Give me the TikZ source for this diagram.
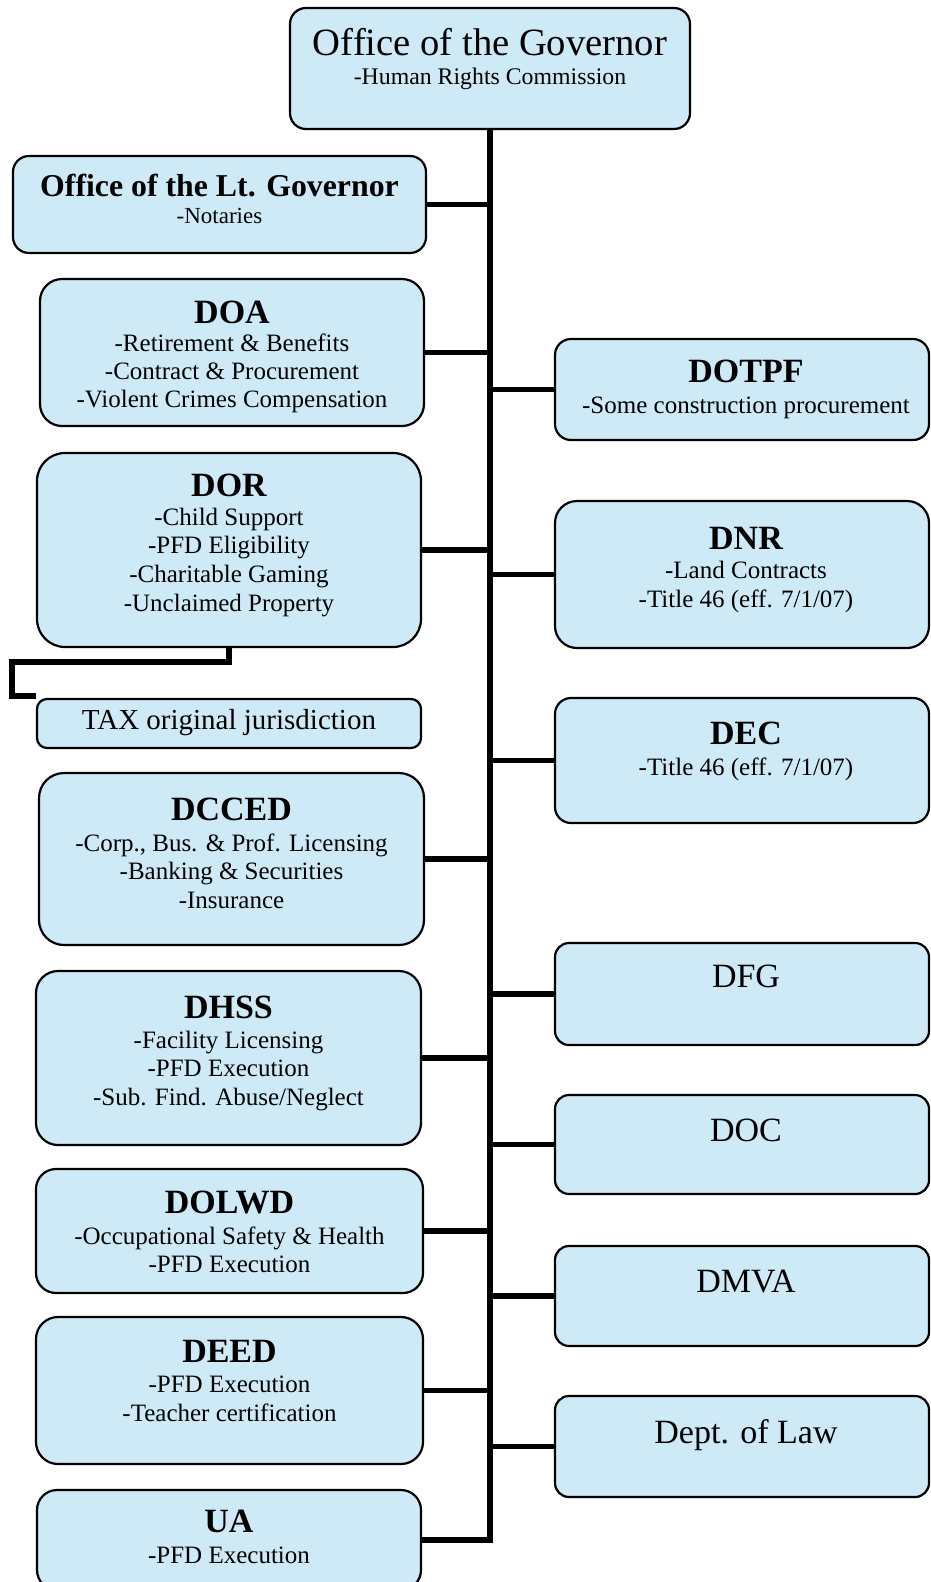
\documentclass[tikz,border=0pt]{standalone}
\usepackage{fontspec}
\setmainfont{Liberation Serif}
\definecolor{boxblue}{RGB}{205,234,246}
\tikzset{
  orgbox/.style={draw=black, line width=2.2pt, fill=boxblue, inner sep=0pt},
  conn/.style={draw=black, line width=5.2pt},
  ttl/.style={font=\fontsize{34}{40}\selectfont\bfseries, anchor=base, inner sep=0pt},
  plainttl/.style={font=\fontsize{34}{40}\selectfont, anchor=base, inner sep=0pt},
  sub/.style={font=\fontsize{25}{28.5}\selectfont, anchor=base, inner sep=0pt},
}
% name, x1, y1, x2, y2, corner radius
\newcommand\obox[6]{%
  \node[orgbox, rounded corners=#6pt, minimum width={#4-#2}, minimum height={#5-#3}]
    (#1) at ({(#2+#4)/2},{(#3+#5)/2}) {};}
% name, x, first baseline, step, list of lines
\newcommand\sublines[5]{%
  \foreach \itm [count=\i from 0] in {#5}{%
    \node[sub] (#1-s\i) at (#2,{#3+#4*\i}) {\itm};}}
\begin{document}
\begin{tikzpicture}[x=1pt,y=-1pt]
\useasboundingbox (0,0) rectangle (930,1582);

% ---------- boxes ----------
\obox{gov}{290}{8}{690}{129}{16}
\obox{ltgov}{13}{156}{426}{253}{16}
\obox{doa}{40}{279}{424}{426}{22}
\obox{dor}{37}{453}{421}{647}{28}
\obox{tax}{37}{699}{421}{748}{10}
\obox{dcced}{39}{773}{424}{945}{25}
\obox{dhss}{36}{971}{421}{1145}{22}
\obox{dolwd}{36}{1169}{423}{1293}{20}
\obox{deed}{36}{1317}{423}{1464}{22}
\obox{ua}{37}{1490}{421}{1590}{20}

\obox{dotpf}{555}{339}{929}{440}{16}
\obox{dnr}{555}{501}{929}{648}{22}
\obox{dec}{555}{698}{929}{823}{16}
\obox{dfg}{555}{943}{929}{1045}{14}
\obox{doc}{555}{1095}{929}{1194}{14}
\obox{dmva}{555}{1246}{929}{1346}{14}
\obox{law}{555}{1396}{929}{1497}{14}

% ---------- connectors ----------
\draw[conn] (gov.south) |- (ua.east);
\foreach \b in {ltgov,doa,dor,dcced,dhss,dolwd,deed}{
  \draw[conn] (\b.east) -- (\b.east -| gov.south);}
\foreach \b in {dotpf,dnr,dec,dfg,doc,dmva,law}{
  \draw[conn] (\b.west) -- (\b.west -| gov.south);}
\coordinate (taxbend) at (12,662);
\draw[conn] (dor.south) |- (taxbend) |- ([yshift=2pt]tax.north west);

% ---------- texts ----------
\node[font=\fontsize{38.6}{44}\selectfont, anchor=base, inner sep=0pt] (gov-t) at (490,55) {Office of the Governor};
\node[sub, font=\fontsize{23.8}{28}\selectfont] (gov-s) at (490,84) {-Human Rights Commission};

\node[ttl, font=\fontsize{31.8}{38}\selectfont\bfseries] (ltgov-t) at (219.5,196) {Office of the Lt. Governor};
\node[sub, font=\fontsize{23}{28}\selectfont] (ltgov-s) at (219.5,223) {-Notaries};

\node[ttl] (doa-t) at (232,323) {DOA};
\sublines{doa}{232}{351}{28.3}{{-Retirement \& Benefits},{-Contract \& Procurement},{-Violent Crimes Compensation}}

\node[ttl] (dor-t) at (229,496) {DOR};
\sublines{dor}{229}{525}{28.7}{{-Child Support},{-PFD Eligibility},{-Charitable Gaming},{-Unclaimed Property}}

\node[font=\fontsize{29}{34}\selectfont, anchor=base, inner sep=0pt] (tax-t) at (229,729) {TAX original jurisdiction};

\node[ttl] (dcced-t) at (231.5,820) {DCCED};
\sublines{dcced}{231.5}{851}{28.5}{{-Corp., Bus. \& Prof. Licensing},{-Banking \& Securities},{-Insurance}}

\node[ttl] (dhss-t) at (228.5,1018) {DHSS};
\sublines{dhss}{228.5}{1048}{28.5}{{-Facility Licensing},{-PFD Execution},{-Sub. Find. Abuse/Neglect}}

\node[ttl] (dolwd-t) at (229.5,1213) {DOLWD};
\sublines{dolwd}{229.5}{1244}{28.5}{{-Occupational Safety \& Health},{-PFD Execution}}

\node[ttl] (deed-t) at (229.5,1362) {DEED};
\sublines{deed}{229.5}{1392}{29.5}{{-PFD Execution},{-Teacher certification}}

\node[ttl] (ua-t) at (229,1532) {UA};
\sublines{ua}{229}{1563}{28.5}{{-PFD Execution}}

\node[ttl] (dotpf-t) at (746,382) {DOTPF};
\sublines{dotpf}{746}{413}{28.5}{{-Some construction procurement}}

\node[ttl] (dnr-t) at (746,549) {DNR};
\sublines{dnr}{746}{578}{29.5}{{-Land Contracts},{-Title 46 (eff. 7/1/07)}}

\node[ttl] (dec-t) at (746,744) {DEC};
\sublines{dec}{746}{775}{28.5}{{-Title 46 (eff. 7/1/07)}}

\node[plainttl] (dfg-t) at (746,987) {DFG};
\node[plainttl] (doc-t) at (746,1141) {DOC};
\node[plainttl] (dmva-t) at (746,1292) {DMVA};
\node[plainttl] (law-t) at (746,1443) {Dept. of Law};
\end{tikzpicture}
\end{document}
